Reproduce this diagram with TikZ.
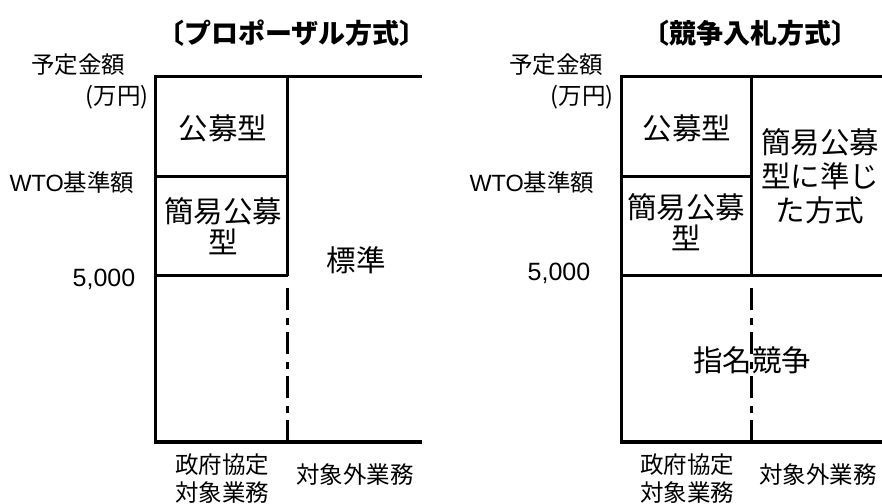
\documentclass[tikz,border=0pt]{standalone}
\usepackage{fontspec}
\setmainfont{Noto Sans CJK JP}
\newfontfamily\lat{Liberation Sans}
\begin{document}
\begin{tikzpicture}[x=1pt,y=-1pt,
  frame/.style={line width=3.2pt, line join=miter},
  dashdot/.style={line width=3.2pt, dash pattern=on 22pt off 7.5pt on 7pt off 7.5pt},
  boxtxt/.style={font=\fontsize{29.5}{31}\selectfont, align=center, inner sep=0pt},
  lab/.style={font=\fontsize{23.5}{28}\selectfont, align=center, inner sep=0pt},
  ttl/.style={font=\fontsize{27}{30}\selectfont\bfseries, inner sep=0pt}]
\useasboundingbox (0,0) rectangle (882,503);
% ---------- left: proposal ----------
\coordinate (LTL) at (155.7,76.7);
\coordinate (LTR) at (422,76.7);
\coordinate (LBL) at (155.7,442);
\coordinate (LBR) at (422,442);
\coordinate (LDT) at (287.7,76.7);
\coordinate (LDM) at (287.7,275.5);
\coordinate (LDB) at (287.7,442);
\coordinate (LW1) at (155.7,176.7);
\coordinate (LW2) at (287.7,176.7);
\coordinate (LF1) at (155.7,275.5);
\draw[frame] (LTR) -- (LTL) -- (LBL) -- (LBR);
\draw[frame] (LDT) -- (LDM);
\draw[frame] (LW1) -- (LW2);
\draw[frame] (LF1) -- (LDM);
\draw[dashdot] (LDB) -- (287.7,280.5);
\node[ttl] (t1) at (292,33) {〔プロポーザル方式〕};
\node[lab] (a1) at (78,65) {予定金額};
\node[lab, anchor=east] (u1) at (149,97) {(万円)};
\node[lab] (w1) at (72,183) {{\lat WTO}基準額};
\node[lab, font=\fontsize{25}{28}\selectfont\lat] (f1) at (104,279) {5,000};
\node[boxtxt] (k1) at (223,128) {公募型};
\node[boxtxt] (s1) at (223,226) {簡易公募\\型};
\node[boxtxt] (h1) at (356,260) {標準};
\node[lab] (g1) at (222,479) {政府協定\\対象業務};
\node[lab] (o1) at (355,475) {対象外業務};
% ---------- right: competitive bidding ----------
\coordinate (RTL) at (621.7,76.7);
\coordinate (RTR) at (882,76.7);
\coordinate (RBL) at (621.7,442);
\coordinate (RBR) at (882,442);
\coordinate (RDT) at (751.7,76.7);
\coordinate (RDM) at (751.7,275.5);
\coordinate (RDB) at (751.7,442);
\coordinate (RW1) at (621.7,176.7);
\coordinate (RW2) at (751.7,176.7);
\coordinate (RF1) at (621.7,275.5);
\coordinate (RF2) at (882,275.5);
\draw[frame] (RTR) -- (RTL) -- (RBL) -- (RBR);
\draw[frame] (RDT) -- (RDM);
\draw[frame] (RW1) -- (RW2);
\draw[frame] (RF1) -- (RF2);
\draw[dashdot] (RDB) -- (751.7,280.5);
\node[ttl] (t2) at (750,33) {〔競争入札方式〕};
\node[lab] (a2) at (556,65) {予定金額};
\node[lab, anchor=east] (u2) at (614,97) {(万円)};
\node[lab] (w2) at (532,183) {{\lat WTO}基準額};
\node[lab, font=\fontsize{25}{28}\selectfont\lat] (f2) at (559,273) {5,000};
\node[boxtxt] (k2) at (687,128) {公募型};
\node[boxtxt] (s2) at (686,222) {簡易公募\\型};
\node[boxtxt, font=\fontsize{29.5}{34}\selectfont] (j2) at (820,176) {簡易公募\\型に準じ\\た方式};
\node[boxtxt] (n2) at (752,360) {指名競争};
\node[lab] (g2) at (687,479) {政府協定\\対象業務};
\node[lab] (o2) at (818,475) {対象外業務};
\end{tikzpicture}
\end{document}
